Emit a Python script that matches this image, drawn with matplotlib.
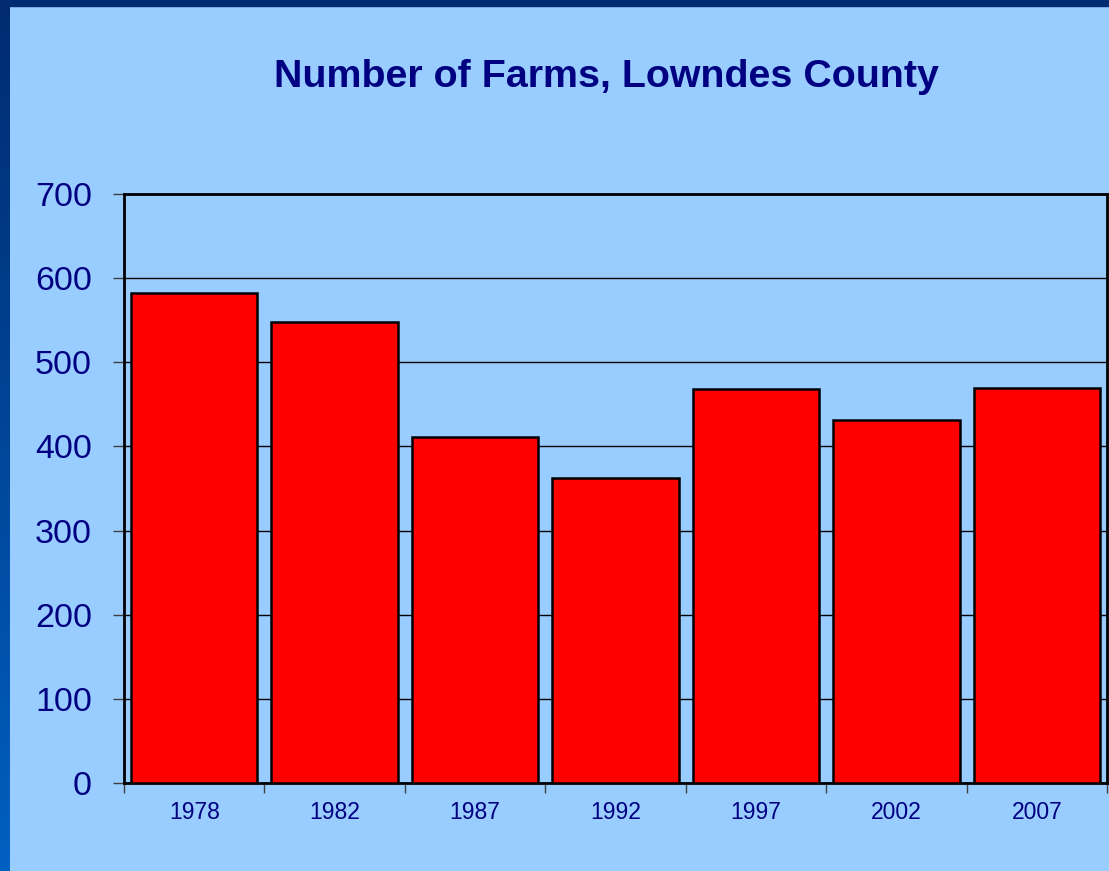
import numpy as np
import matplotlib
matplotlib.use("Agg")
import matplotlib.pyplot as plt

years = ["1978", "1982", "1987", "1992", "1997", "2002", "2007"]
farms = [582, 548, 411, 362, 468, 431, 469]

navy = "#000080"
bg = "#99ccff"

plt.rcParams['font.family'] = ['Liberation Sans', 'DejaVu Sans']

fig = plt.figure(figsize=(11.09, 8.71), dpi=100, facecolor=bg)

# Slide frame: dark band on top, gradient band on the left
band = fig.add_axes([0, 0, 10 / 1109, 1])
grad = np.linspace(0, 1, 256).reshape(-1, 1)
cmap = matplotlib.colors.LinearSegmentedColormap.from_list("edge", ["#0060c0", "#002b70"])
band.imshow(grad, aspect="auto", cmap=cmap, origin="lower")
band.axis("off")
fig.patches.append(plt.Rectangle((0, 1 - 6 / 871), 1, 6 / 871, transform=fig.transFigure,
                                 color="#002b70", zorder=5))

ax = fig.add_axes([124 / 1109, 88 / 871, 983 / 1109, 589 / 871])
ax.set_facecolor(bg)

x = np.arange(len(years))
ax.bar(x, farms, width=0.9, color="#ff0000", edgecolor="black", linewidth=1.8, zorder=3)

ax.set_xlim(-0.5, len(years) - 0.5)
ax.set_ylim(0, 700)
ax.set_yticks(range(0, 701, 100))
ax.yaxis.grid(True, color="black", linewidth=1.0, zorder=0)
ax.set_axisbelow(True)

ax.set_xticks(x)
ax.set_xticklabels(years, fontsize=16.5, color=navy)
ax.set_xticks(np.arange(-0.5, len(years)), minor=True)
ax.tick_params(axis="x", which="major", length=0, pad=13)
ax.tick_params(axis="x", which="minor", length=7, width=1, color="#404040")
ax.tick_params(axis="y", length=8, width=1, color="#404040", labelsize=24.5,
               labelcolor=navy, pad=15)

for s in ax.spines.values():
    s.set_linewidth(2)
    s.set_color("black")

fig.text(0.547, 1 - 77 / 871, "Number of Farms, Lowndes County", fontsize=28.4,
         fontweight="bold", color=navy, ha="center", va="center")

fig.savefig("out.png", dpi=100, facecolor=bg)
